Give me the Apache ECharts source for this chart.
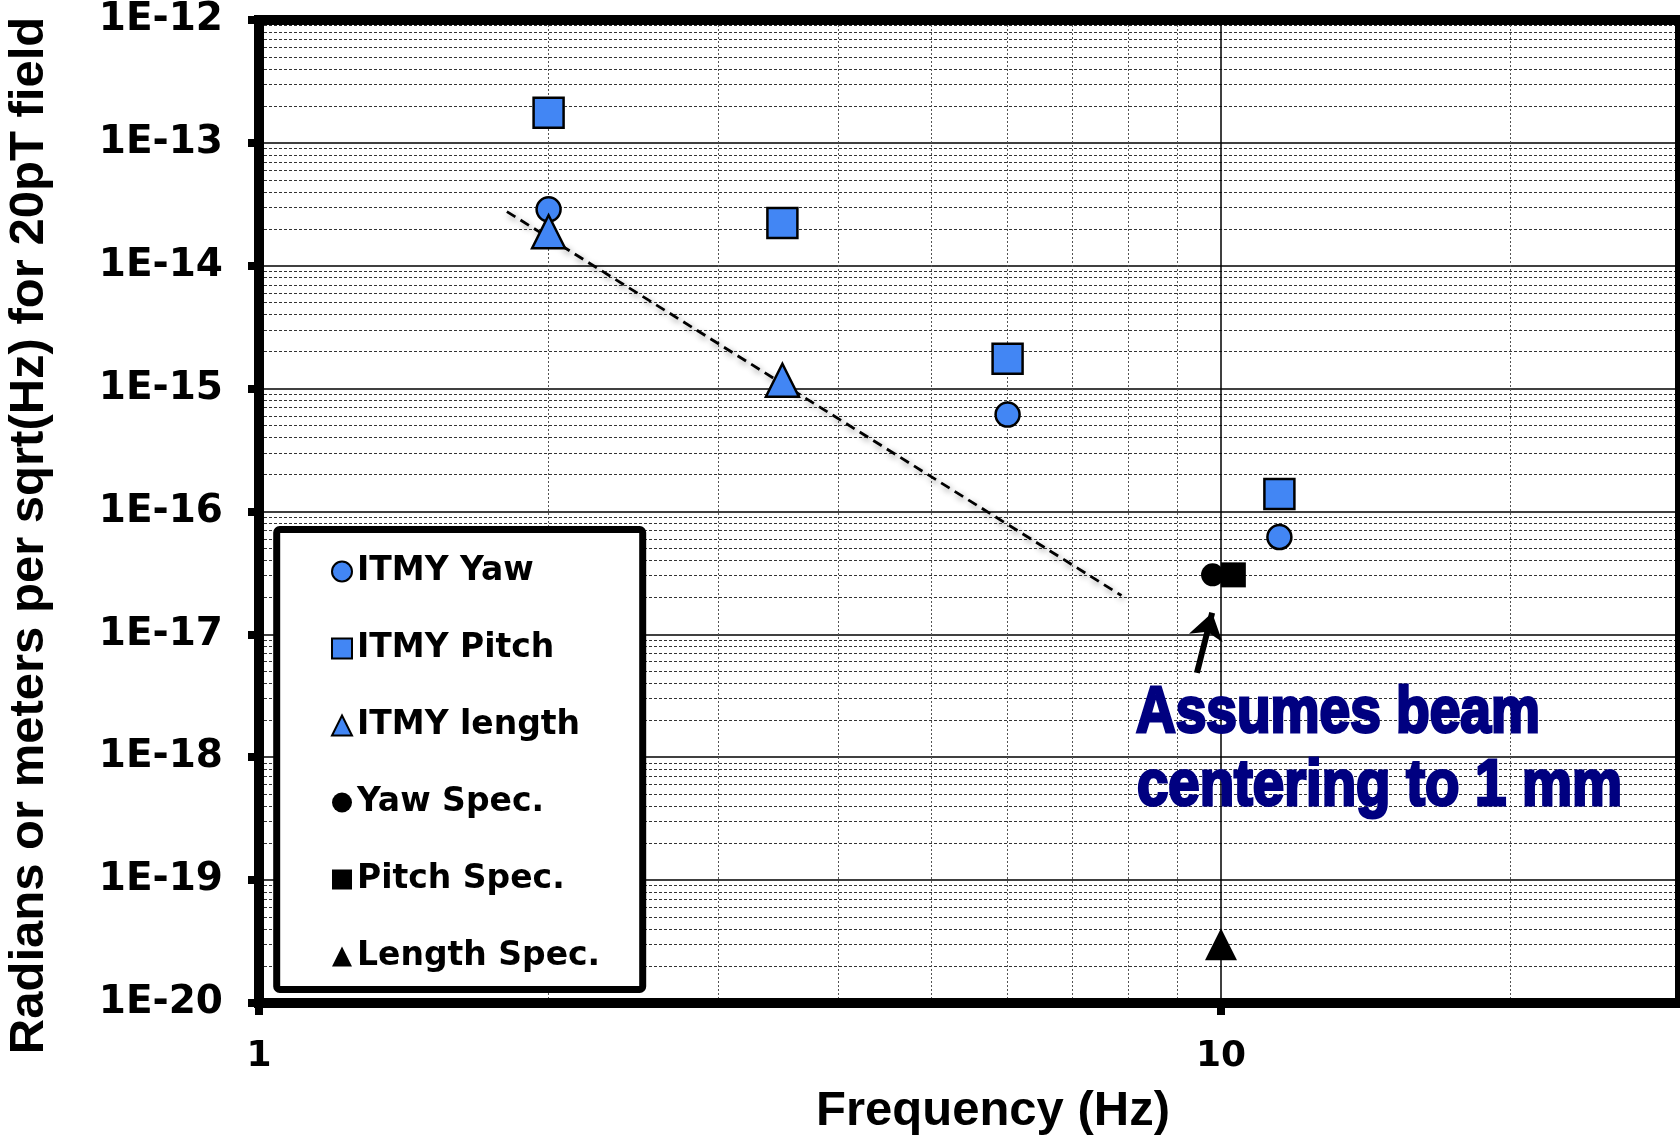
<!DOCTYPE html>
<html><head><meta charset="utf-8">
<script src="https://cdn.jsdelivr.net/npm/echarts@6/dist/echarts.min.js"></script>
<style>html,body{margin:0;padding:0;background:#fff}#c{width:1680px;height:1144px}</style>
</head><body><div id="c"></div>
<script>
// ---- data ----
const yawFreq = [2, 6, 11.5];
const yawVal = [2.88e-14, 6.15e-16, 6.2e-17];
const pitchFreq = [2, 3.5, 6, 11.5];
const pitchVal = [1.76e-13, 2.23e-14, 1.75e-15, 1.39e-16];
const lengthFreq = [2, 3.5];
const lengthVal = [1.89e-14, 1.17e-15];
const yawSpecFreq = [9.8];
const yawSpecVal = [3.05e-17];
const pitchSpecFreq = [10.3];
const pitchSpecVal = [3.05e-17];
const lengthSpecFreq = [10];
const lengthSpecVal = [3.0e-20];
const trendFreq = [1.81, 7.88];
const trendVal = [2.76e-14, 2.07e-17];
const arrowFreq = [9.44, 9.79];
const arrowVal = [4.86e-18, 1.5e-17];
const xRange = [1, 30];
const yRange = [1e-20, 1e-12];
const xTickLabels = [1, 10];
const xMinorGrid = [2, 3, 4, 5, 6, 7, 8, 9, 20];
const yDecadeExps = [-20, -19, -18, -17, -16, -15, -14, -13];
const yMinorSteps = [2, 3, 4, 5, 6, 7, 8, 9];
const legendNames = ['ITMY Yaw', 'ITMY Pitch', 'ITMY length', 'Yaw Spec.', 'Pitch Spec.', 'Length Spec.'];
const annotationLines = ['Assumes beam', 'centering to 1 mm'];
const xTitle = 'Frequency (Hz)';
const yTitle = 'Radians or meters per sqrt(Hz) for 20pT field';

const BLUE = '#4286f4';
const zip = (xs, ys) => xs.map((x, i) => [x, ys[i]]);

const gridLineData = [];
yDecadeExps.forEach(e => yMinorSteps.forEach(k => {
  const v = k * Math.pow(10, e);
  gridLineData.push({ coords: [[xRange[0], v], [xRange[1], v]], lineStyle: { color: '#333', width: 1, type: [3, 2], opacity: 1 } });
}));
xMinorGrid.forEach(v => gridLineData.push({ coords: [[v, yRange[0]], [v, yRange[1]]], lineStyle: { color: '#555', width: 1, type: [2, 2], opacity: 1 } }));
gridLineData.push({ coords: [[10, yRange[0]], [10, yRange[1]]], lineStyle: { color: '#000', width: 1.5, type: 'solid', opacity: 1 } });

const chart = echarts.init(document.getElementById('c'), null, { renderer: 'canvas' });
const labelFont = { fontFamily: 'DejaVu Sans', fontWeight: 'bold', color: '#000' };
const titleStyle = { fontFamily: 'Liberation Sans', fontWeight: 'bold', fontSize: 49, fill: '#000', align: 'center', verticalAlign: 'middle' };

const option = {
  animation: false,
  backgroundColor: '#fff',
  grid: {
    left: 259, right: 0, top: 20, bottom: 141,
    show: true, borderColor: '#000', borderWidth: 10, backgroundColor: 'transparent',
    z: 6, outerBoundsMode: 'none'
  },
  xAxis: {
    type: 'log', logBase: 10, min: xRange[0], max: xRange[1],
    axisLine: { show: false },
    axisTick: { show: true, customValues: xTickLabels, length: 12, lineStyle: { color: '#000', width: 8 } },
    axisLabel: { customValues: xTickLabels, margin: 36, fontSize: 36, ...labelFont,
      formatter: v => String(Math.round(v)) },
    splitLine: { show: false },
    minorTick: { show: false }
  },
  yAxis: {
    type: 'log', logBase: 10, min: yRange[0], max: yRange[1],
    axisLine: { show: false },
    axisTick: { show: true, length: 11, lineStyle: { color: '#000', width: 8 } },
    axisLabel: { margin: 36, fontSize: 39, ...labelFont,
      formatter: v => '1E' + Math.round(Math.log10(v)) },
    splitLine: { show: true, lineStyle: { color: '#000', width: 1.5 } }
  },
  legend: {
    orient: 'vertical', left: 331, top: 555, padding: 0,
    itemWidth: 20, itemHeight: 20, itemGap: 44, selectedMode: false, z: 8,
    textStyle: { fontFamily: 'DejaVu Sans', fontWeight: 'bold', fontSize: 33, color: '#000', lineHeight: 33 },
    data: legendNames
  },
  graphic: [
    { type: 'rect', z: 7, shape: { x: 276.7, y: 529.5, width: 366, height: 460, r: 3 },
      style: { fill: '#fff', stroke: '#000', lineWidth: 7 } },
    { type: 'text', z: 10, x: 29, y: 535.5, rotation: Math.PI / 2,
      style: { text: yTitle, ...titleStyle } },
    { type: 'text', z: 10, x: 993, y: 1111,
      style: { text: xTitle, ...titleStyle } },
    { type: 'text', z: 10, x: 1136, y: 714, scaleX: 0.86,
      style: { text: annotationLines[0], fontFamily: 'Liberation Sans', fontWeight: 'bold', fontSize: 64,
        fill: '#000080', stroke: '#000080', lineWidth: 3, align: 'left', verticalAlign: 'middle' } },
    { type: 'text', z: 10, x: 1137, y: 787, scaleX: 0.88,
      style: { text: annotationLines[1], fontFamily: 'Liberation Sans', fontWeight: 'bold', fontSize: 64,
        fill: '#000080', stroke: '#000080', lineWidth: 3, align: 'left', verticalAlign: 'middle' } }
  ],
  series: [
    {
      name: 'gridlines', type: 'lines', coordinateSystem: 'cartesian2d', polyline: false,
      silent: true, z: 1, symbol: 'none', lineStyle: { opacity: 1 }, data: gridLineData
    },
    {
      name: 'trend', type: 'line', data: zip(trendFreq, trendVal), symbol: 'none', z: 2, silent: true,
      lineStyle: { color: '#000', width: 2.8, type: [10, 6], shadowColor: 'rgba(0,0,0,0.45)', shadowBlur: 6, shadowOffsetX: 2, shadowOffsetY: 3 }
    },
    {
      name: 'arrow', type: 'lines', coordinateSystem: 'cartesian2d', polyline: false, silent: true, z: 6,
      symbol: ['none', 'arrow'], symbolSize: 26,
      lineStyle: { color: '#000', width: 6, type: 'solid', opacity: 1 },
      itemStyle: { color: '#000' },
      data: [{ coords: [[arrowFreq[0], arrowVal[0]], [arrowFreq[1], arrowVal[1]]] }]
    },
    { name: legendNames[0], type: 'scatter', z: 3, symbol: 'circle', symbolSize: 24, data: zip(yawFreq, yawVal),
      itemStyle: { color: BLUE, borderColor: '#000', borderWidth: 2.5, opacity: 1 } },
    { name: legendNames[1], type: 'scatter', z: 3, symbol: 'rect', symbolSize: 30, data: zip(pitchFreq, pitchVal),
      itemStyle: { color: BLUE, borderColor: '#000', borderWidth: 2.5, opacity: 1 } },
    { name: legendNames[2], type: 'scatter', z: 3, symbol: 'triangle', symbolSize: 33, data: zip(lengthFreq, lengthVal),
      itemStyle: { color: BLUE, borderColor: '#000', borderWidth: 2.5, opacity: 1 } },
    { name: legendNames[3], type: 'scatter', z: 3, symbol: 'circle', symbolSize: 23, data: zip(yawSpecFreq, yawSpecVal),
      itemStyle: { color: '#000', opacity: 1 } },
    { name: legendNames[4], type: 'scatter', z: 3, symbol: 'rect', symbolSize: 25, data: zip(pitchSpecFreq, pitchSpecVal),
      itemStyle: { color: '#000', opacity: 1 } },
    { name: legendNames[5], type: 'scatter', z: 3, symbol: 'triangle', symbolSize: 32, data: zip(lengthSpecFreq, lengthSpecVal),
      itemStyle: { color: '#000', opacity: 1 } }
  ]
};
chart.setOption(option);
</script>
</body></html>
